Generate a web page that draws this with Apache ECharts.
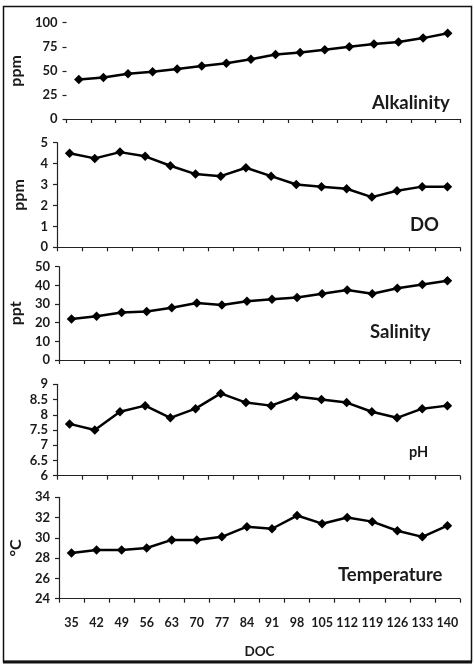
<!DOCTYPE html>
<html>
<head>
<meta charset="utf-8">
<script src="https://cdn.jsdelivr.net/npm/echarts@6/dist/echarts.min.js"></script>
<style>
html,body{margin:0;padding:0;background:#fff;}
#chart{width:474px;height:672px;}
</style>
</head>
<body>
<div id="chart"></div>
<script>
const doc = ['35','42','49','56','63','70','77','84','91','98','105','112','119','126','133','140'];
const alkalinity = [41,43,47,49,52,55,58,62,67,69,72,75,78,80,84,89];
const dissolvedOxygen = [4.5,4.25,4.55,4.35,3.9,3.5,3.4,3.8,3.4,3.0,2.9,2.8,2.4,2.7,2.9,2.9];
const salinity = [22,23.5,25.5,26,28,30.5,29.5,31.5,32.5,33.5,35.5,37.5,35.5,38.5,40.5,42.5];
const ph = [7.7,7.5,8.1,8.3,7.9,8.2,8.7,8.4,8.3,8.6,8.5,8.4,8.1,7.9,8.2,8.3];
const temperature = [28.5,28.8,28.8,29.0,29.8,29.8,30.1,31.1,30.9,32.2,31.4,32.0,31.6,30.7,30.1,31.2];

const panelNames = ['Alkalinity','DO','Salinity','pH','Temperature'];
const unitNames = ['ppm','ppm','ppt','','°C'];
const yMin = [0,0,0,6,24];
const yMax = [100,5,50,9,34];
const yStep = [25,1,10,0.5,2];
const seriesData = [alkalinity, dissolvedOxygen, salinity, ph, temperature];

const FONT = 'Lato';
const TXT = '#1a1a1a';
const grids = [
  {top:22.7, height:96.3},
  {top:142.7, height:104.6},
  {top:266.7, height:93.3},
  {top:384.3, height:91.4},
  {top:497.3, height:101.4}
];

const chart = echarts.init(document.getElementById('chart'), null, {renderer:'canvas'});
const option = {
  backgroundColor:'#fff',
  animation:false,
  grid: grids.map(g => ({left:57, right:14, top:g.top, height:g.height, containLabel:false})),
  xAxis: grids.map((g,i) => ({
    type:'category', gridIndex:i, data:doc, boundaryGap:true,
    axisLine:{show:true, lineStyle:{color:'#222', width:1.2}},
    axisTick:{show:true, alignWithLabel:false, length:4, lineStyle:{color:'#222', width:1.2}},
    axisLabel:{show:i===4, interval:0, fontFamily:FONT, fontWeight:'bold', fontSize:12.5, color:TXT, margin:18},
    name: i===4 ? 'DOC' : '',
    nameLocation:'middle', nameGap:46,
    nameTextStyle:{fontFamily:FONT, fontWeight:'bold', fontSize:13.5, color:TXT},
    splitLine:{show:false}
  })),
  yAxis: grids.map((g,i) => ({
    type:'value', gridIndex:i, min:yMin[i], max:yMax[i], interval:yStep[i],
    axisLine:{show:i!==0, lineStyle:{color:'#222', width:1.2}},
    axisTick:{show:true, length:4, lineStyle:{color:'#222', width:1.2}},
    axisLabel:{fontFamily:FONT, fontWeight:'bold', fontSize:13, color:TXT, margin:9},
    splitLine:{show:false},
    name: unitNames[i], nameLocation:'middle', nameRotate:90, nameGap:30,
    nameTextStyle:{fontFamily:FONT, fontWeight:'bold', fontSize:16, color:TXT}
  })),
  title: [
    {text:panelNames[0], left:367, top:89},
    {text:panelNames[1], left:405, top:211},
    {text:panelNames[2], left:365, top:318},
    {text:panelNames[3], left:404, top:440, textStyle:{fontSize:14.5, fontWeight:'bold', fontFamily:FONT, color:TXT}},
    {text:panelNames[4], left:333, top:561}
  ].map(t => Object.assign({textStyle:{fontSize:18.5, fontWeight:'bold', fontFamily:FONT, color:TXT}}, t)),
  series: seriesData.map((d,i) => ({
    type:'line', xAxisIndex:i, yAxisIndex:i, data:d,
    symbol:'diamond', symbolSize:9.5, showAllSymbol:true,
    lineStyle:{color:'#000', width:2.5},
    itemStyle:{color:'#000'}
  })),
  graphic: [
    {type:'rect', shape:{x:3.5, y:6.5, width:468, height:655}, style:{fill:'none', stroke:'#111', lineWidth:1.5}, silent:true},
    {type:'line', shape:{x1:3, y1:662, x2:472, y2:662}, style:{stroke:'#111', lineWidth:3}, silent:true}
  ]
};
chart.setOption(option);
</script>
</body>
</html>
